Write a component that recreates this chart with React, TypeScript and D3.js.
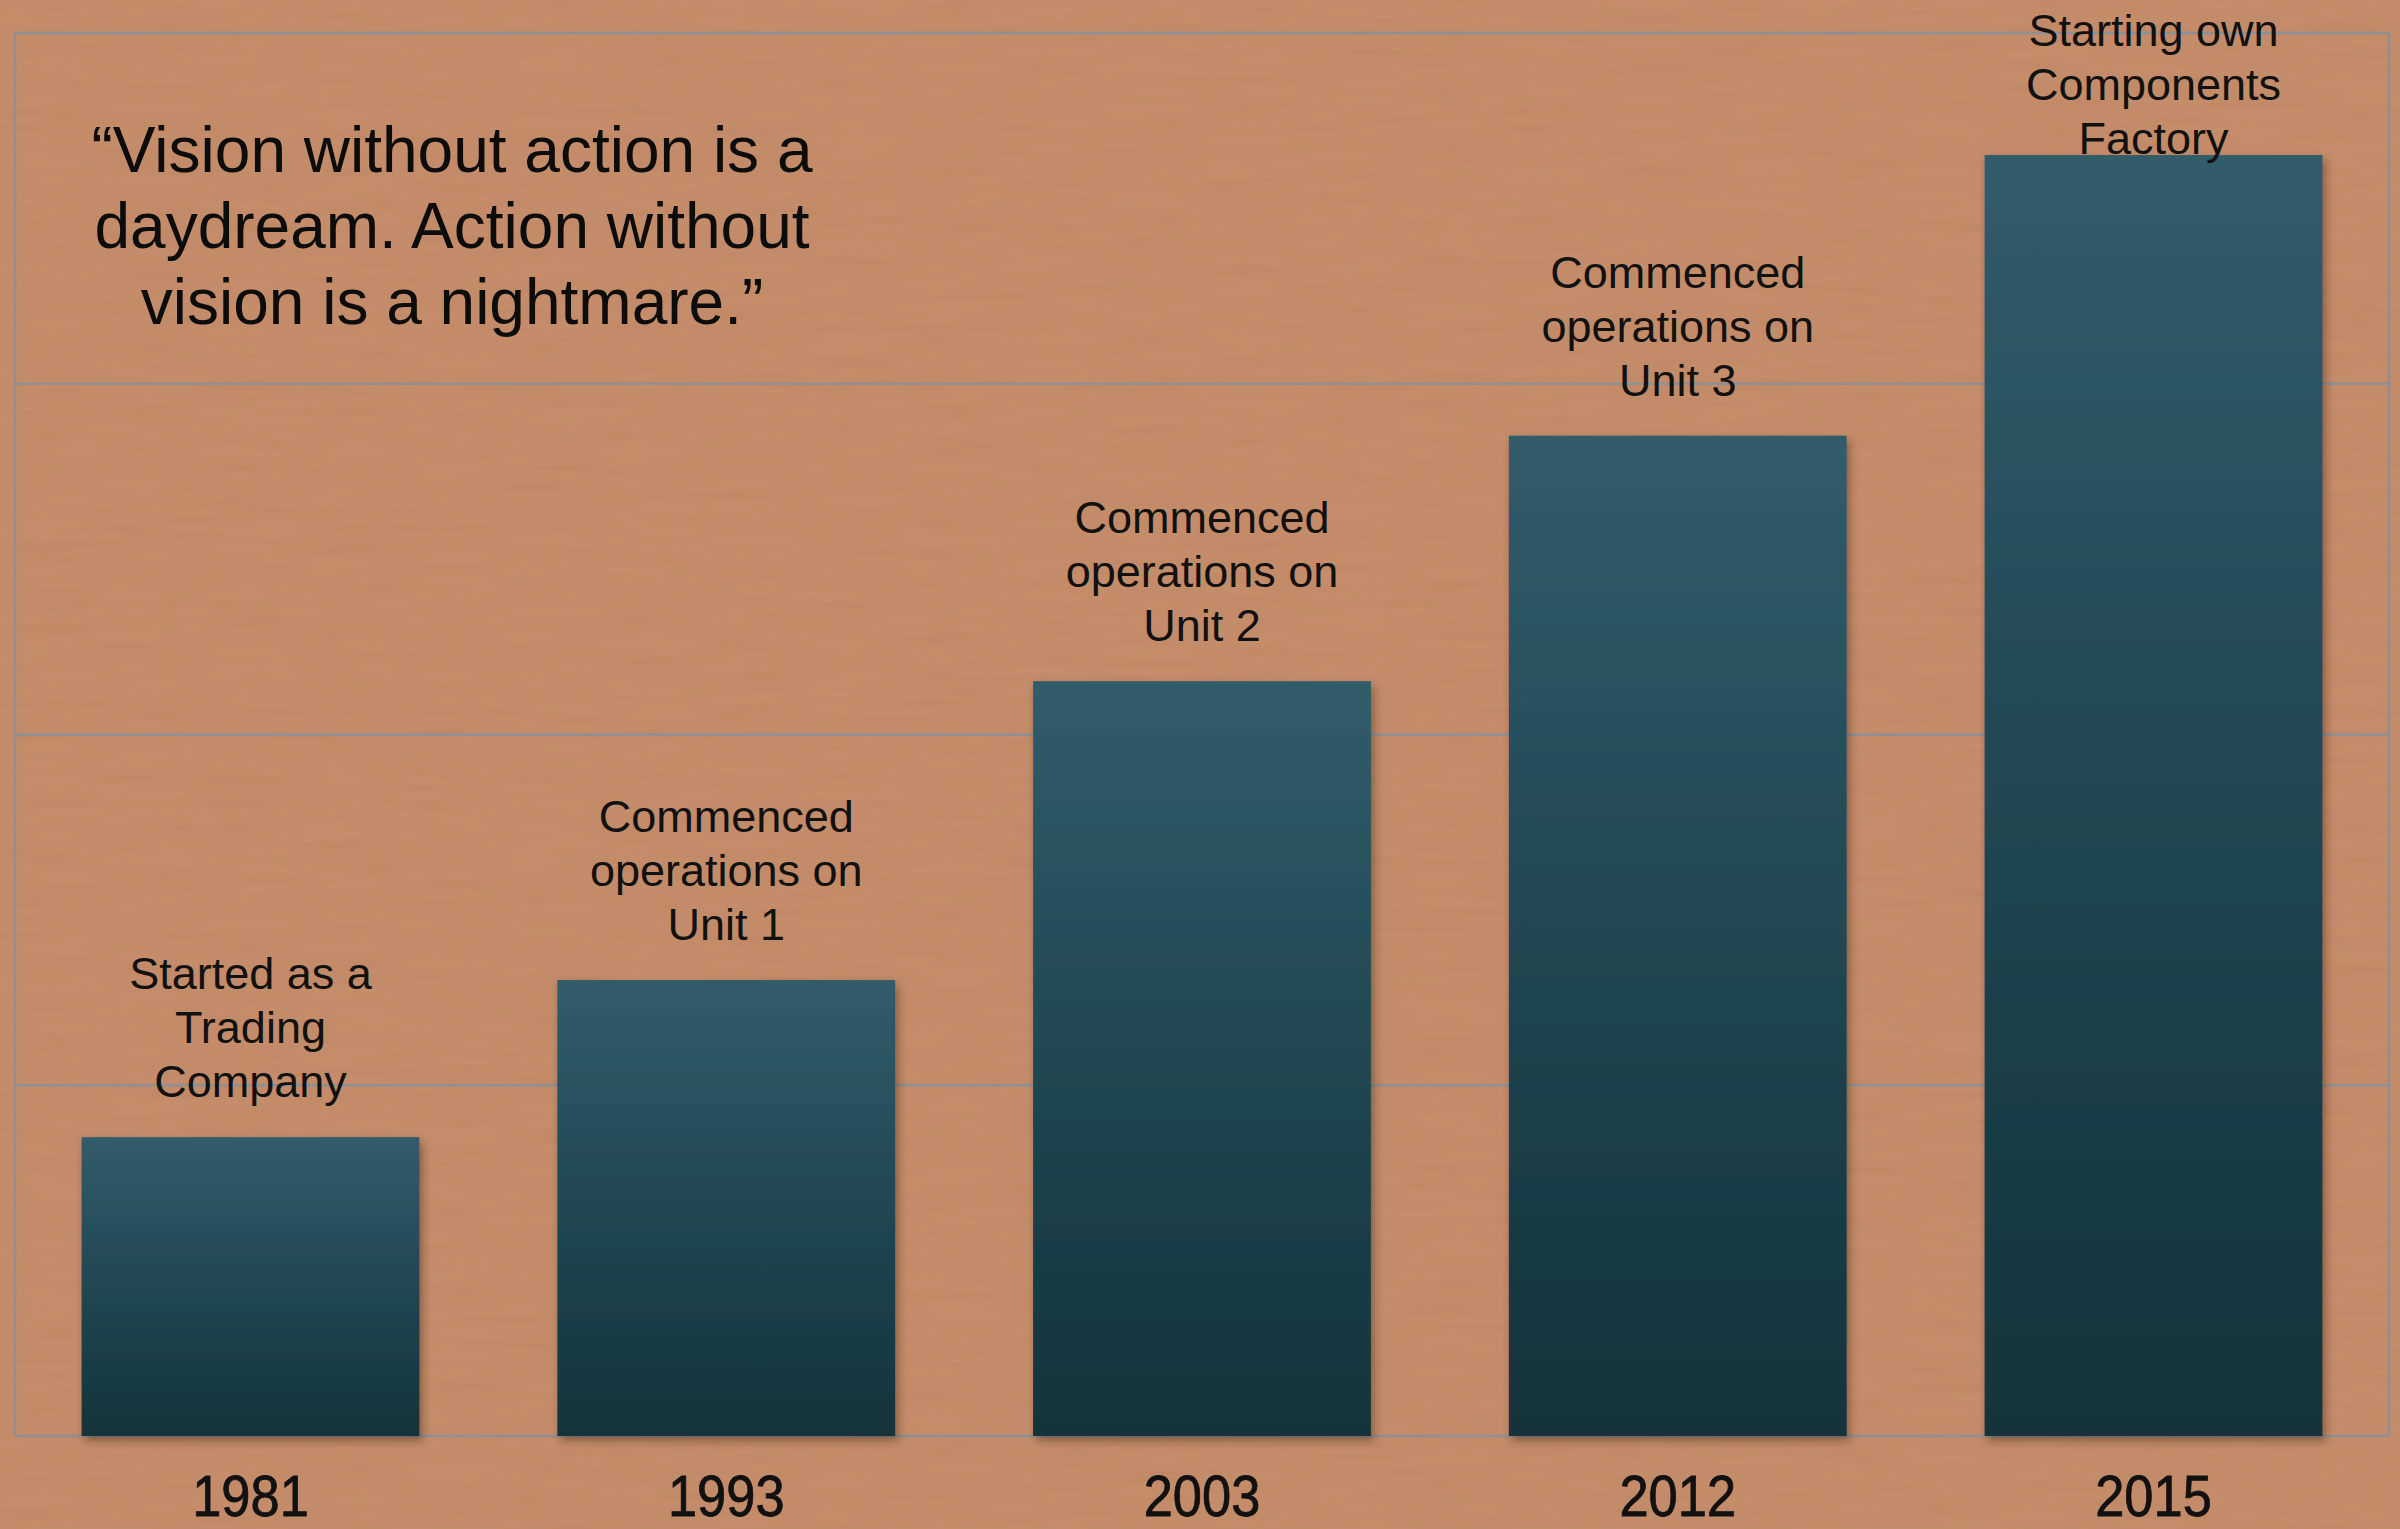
import { useEffect, useRef } from 'react';
import * as d3 from 'd3';

// Milestone data
const years = ['1981', '1993', '2003', '2012', '2015'];
const growth = [21.3, 32.5, 53.8, 71.3, 91.3];
const milestones = [
  ['Started as a', 'Trading', 'Company'],
  ['Commenced', 'operations on', 'Unit 1'],
  ['Commenced', 'operations on', 'Unit 2'],
  ['Commenced', 'operations on', 'Unit 3'],
  ['Starting own', 'Components', 'Factory'],
];
const gridTicks = [0, 25, 50, 75, 100];
const quoteLines = [
  '\u201CVision without action is a',
  'daydream. Action without',
  'vision is a nightmare.\u201D',
];

const WIDTH = 2400;
const HEIGHT = 1529;
const FONT = '"Liberation Sans", Arial, Helvetica, sans-serif';

const App = () => {
  const svgRef = useRef<SVGSVGElement>(null);

  useEffect(() => {
    if (!svgRef.current) return;
    const svg = d3.select(svgRef.current);
    svg.selectAll('*').remove();

    const frame = { left: 15, right: 2389, top: 33, bottom: 1436 };

    const x = d3.scaleBand<string>()
      .domain(years)
      .range([frame.left, frame.right])
      .paddingInner(0.29)
      .paddingOuter(0.14);

    const y = d3.scaleLinear()
      .domain([0, 100])
      .range([frame.bottom, frame.top]);

    const defs = svg.append('defs');

    const grad = defs.append('linearGradient')
      .attr('id', 'barFill')
      .attr('x1', 0).attr('y1', 0)
      .attr('x2', 0).attr('y2', 1);
    grad.append('stop').attr('offset', '0%').attr('stop-color', '#325c6b');
    grad.append('stop').attr('offset', '55%').attr('stop-color', '#1f4550');
    grad.append('stop').attr('offset', '100%').attr('stop-color', '#12333a');

    const shadow = defs.append('filter')
      .attr('id', 'barShadow')
      .attr('x', '-10%').attr('y', '-10%')
      .attr('width', '130%').attr('height', '130%');
    shadow.append('feDropShadow')
      .attr('dx', 3).attr('dy', 5)
      .attr('stdDeviation', 4)
      .attr('flood-color', '#3a2012')
      .attr('flood-opacity', 0.45);

    // faint paper grain
    const paper = defs.append('filter')
      .attr('id', 'paper')
      .attr('x', 0).attr('y', 0)
      .attr('width', '100%').attr('height', '100%');
    paper.append('feTurbulence')
      .attr('type', 'fractalNoise')
      .attr('baseFrequency', '0.01 0.12')
      .attr('numOctaves', 3)
      .attr('seed', 7);
    paper.append('feColorMatrix')
      .attr('type', 'matrix')
      .attr('values', '1 0 0 0 0  1 0 0 0 0  1 0 0 0 0  0 0 0 0 1');

    // background
    svg.append('rect')
      .attr('width', WIDTH).attr('height', HEIGHT)
      .attr('fill', '#c48a66');
    svg.append('rect')
      .attr('width', WIDTH).attr('height', HEIGHT)
      .attr('filter', 'url(#paper)')
      .attr('opacity', 0.035);

    // grid and frame
    const grid = svg.append('g')
      .attr('stroke', '#8d9094')
      .attr('stroke-width', 2.5)
      .attr('fill', 'none');

    grid.selectAll('line.h')
      .data(gridTicks)
      .enter()
      .append('line')
      .attr('class', 'h')
      .attr('x1', frame.left)
      .attr('x2', frame.right)
      .attr('y1', d => y(d))
      .attr('y2', d => y(d));

    grid.append('line')
      .attr('x1', frame.left).attr('x2', frame.left)
      .attr('y1', y(100)).attr('y2', y(0));
    grid.append('line')
      .attr('x1', frame.right).attr('x2', frame.right)
      .attr('y1', y(100)).attr('y2', y(0));

    // bars
    svg.append('g')
      .selectAll('rect')
      .data(growth)
      .enter()
      .append('rect')
      .attr('x', (_, i) => x(years[i]) || 0)
      .attr('y', d => y(d))
      .attr('width', x.bandwidth())
      .attr('height', d => y(0) - y(d))
      .attr('fill', 'url(#barFill)')
      .attr('filter', 'url(#barShadow)');

    // milestone labels above bars
    const lineHeight = 54;
    const gap = 40;
    const minFirstBaseline = 46;

    const labels = svg.append('g')
      .attr('font-family', FONT)
      .attr('font-size', 45)
      .attr('fill', '#111')
      .attr('text-anchor', 'middle');

    milestones.forEach((lines, i) => {
      const cx = (x(years[i]) || 0) + x.bandwidth() / 2;
      const last = y(growth[i]) - gap;
      const first = Math.max(last - (lines.length - 1) * lineHeight, minFirstBaseline);
      const t = labels.append('text');
      lines.forEach((ln, j) => {
        t.append('tspan')
          .attr('x', cx)
          .attr('y', first + j * lineHeight)
          .text(ln);
      });
    });

    // year labels
    svg.append('g')
      .selectAll('text')
      .data(years)
      .enter()
      .append('text')
      .attr('transform', d => `translate(${(x(d) || 0) + x.bandwidth() / 2},1516) scale(0.92,1)`)
      .attr('text-anchor', 'middle')
      .attr('font-family', FONT)
      .attr('font-size', 57)
      .attr('fill', '#111')
      .attr('stroke', '#111')
      .attr('stroke-width', 0.8)
      .text(d => d);

    // quote
    const quote = svg.append('text')
      .attr('font-family', FONT)
      .attr('font-size', 64)
      .attr('fill', '#0c0c0c')
      .attr('text-anchor', 'middle');
    quoteLines.forEach((ln, j) => {
      quote.append('tspan')
        .attr('x', 452)
        .attr('y', 172 + j * 76)
        .text(ln);
    });
  }, []);

  return (
    <div style={{ position: 'fixed', left: 0, top: 0, width: WIDTH, height: HEIGHT, overflow: 'hidden' }}>
      <svg ref={svgRef} width={WIDTH} height={HEIGHT} style={{ display: 'block' }} />
    </div>
  );
};

export default App;
